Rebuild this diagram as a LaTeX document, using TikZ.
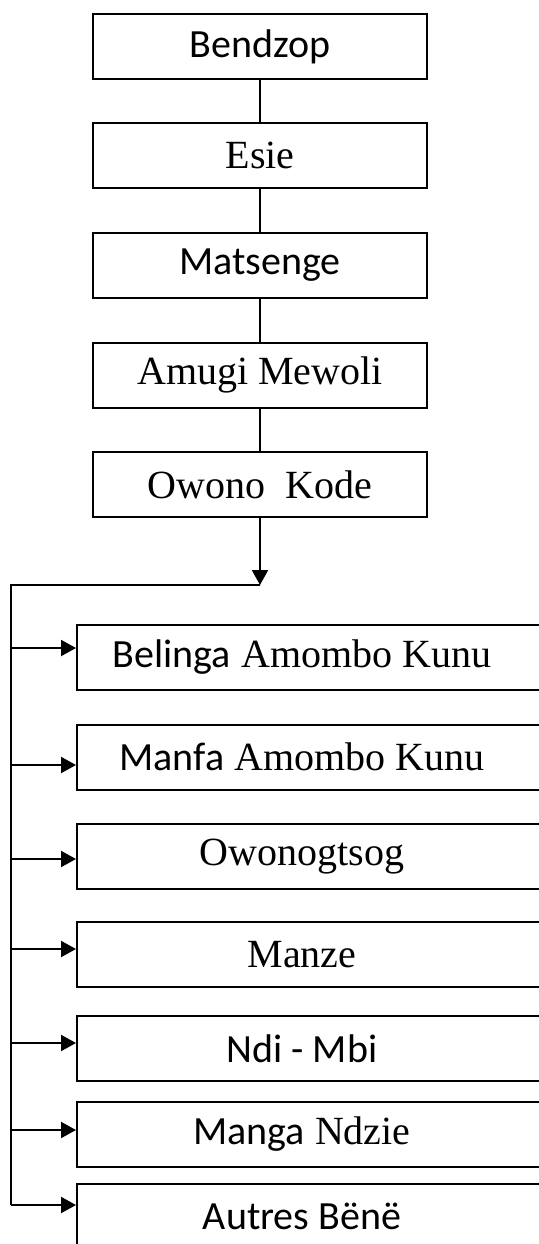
\documentclass[tikz,border=0pt]{standalone}
\usepackage{fontspec}
\setmainfont{Liberation Serif}
\newfontfamily\calibri{Carlito}
\usetikzlibrary{arrows.meta}

\begin{document}
\begin{tikzpicture}[x=0.5pt,y=-0.5pt,
  gen/.style={draw,line width=1pt,minimum width=167pt,minimum height=32.5pt,
    inner sep=0pt,font=\fontsize{20}{22}\selectfont},
  kid/.style={draw,line width=1pt,minimum width=242pt,minimum height=32.5pt,
    inner sep=0pt,anchor=west,font=\fontsize{20}{22}\selectfont,
    execute at end node=\hspace*{17pt}},
  link/.style={line width=0.7pt},
  branch/.style={line width=1pt,-{Triangle[length=7.5pt,width=8pt]}}]
  \useasboundingbox (0,0) rectangle (539,1244);

  \node[gen] (bendzop)  at (260,46.5)  {{\calibri Bendzop}};
  \node[gen] (esie)     at (260,155.5) {Esie};
  \node[gen] (matsenge) at (260,265.5) {{\calibri Matsenge}};
  \node[gen] (amugi)    at (260,375)   {Amugi Mewoli};
  \node[gen] (owono)    at (260,484.5) {Owono\ \ Kode};

  \draw[link] (bendzop) -- (esie);
  \draw[link] (esie) -- (matsenge);
  \draw[link] (matsenge) -- (amugi);
  \draw[link] (amugi) -- (owono);

  \coordinate (top)  at (11,585);
  \coordinate (foot) at (11,1205);

  \node[kid] (belinga) at (76,657.5) {{\calibri Belinga} Amombo Kunu};
  \node[kid] (manfa)   at (76,757)   {{\calibri Manfa} Amombo Kunu};
  \node[kid] (owonog)  at (76,856.5) {Owonogtsog};
  \node[kid] (manze)   at (76,954.5) {Manze};
  \node[kid] (ndimbi)  at (76,1048.5) {{\calibri Ndi - Mbi}};
  \node[kid] (manga)   at (76,1134)  {{\calibri Manga} Ndzie};
  \node[kid] (autres)  at (76,1216.5) {{\calibri Autres Bënë}};

  \draw[branch] (owono) -- (owono |- top);
  \draw[line width=1pt] (owono |- top) -- (top) -- (foot);

  \foreach \y/\n in {648/belinga,765/manfa,859/owonog,949/manze,
                     1043/ndimbi,1130/manga,1205/autres}
  {
    \coordinate (s-\n) at (top |- 0,\y);
    \draw[branch] (s-\n) -- (s-\n -| \n.west);
  }
\end{tikzpicture}
\end{document}
